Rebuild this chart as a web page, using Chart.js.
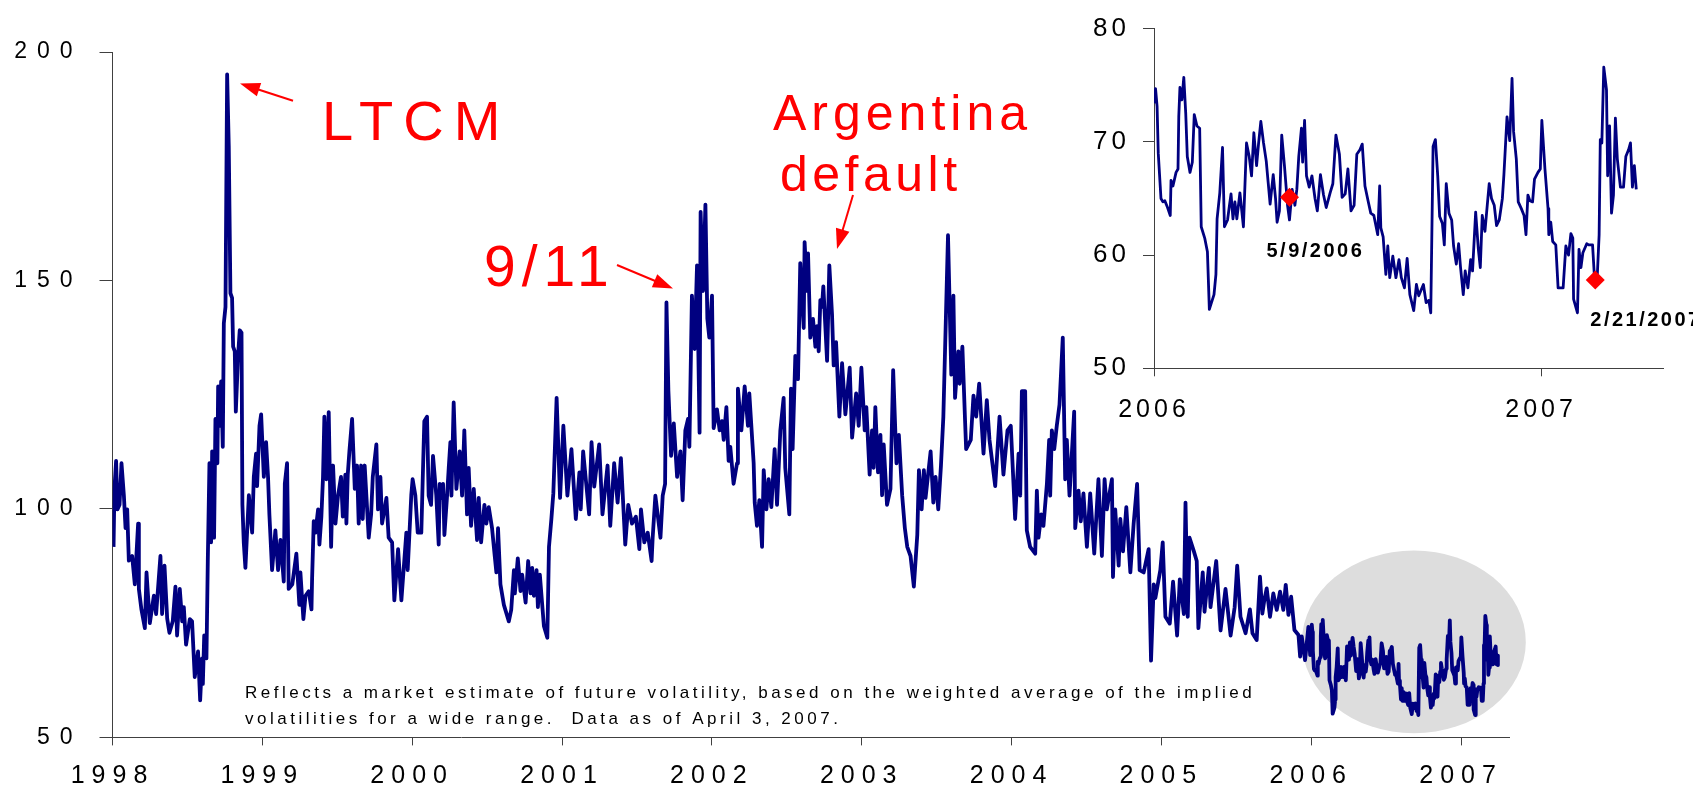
<!DOCTYPE html>
<html>
<head>
<meta charset="utf-8">
<script src="https://cdn.jsdelivr.net/npm/chart.js@4.4.0/dist/chart.umd.min.js"></script>
<style>
  body { margin: 0; background: #fff; }
  #wrap { position: relative; width: 1693px; height: 787px; overflow: hidden; background: #fff; }
  canvas { position: absolute; top: 0; }
</style>
</head>
<body>
<div id="wrap">
  <canvas id="mainChart" width="1693" height="787" style="left:0"></canvas>
  <canvas id="insetChart" width="633" height="430" style="left:1060px"></canvas>
</div>
<script>
// weekly-ish readings, decimal years
const dates = [
  1998.007,1998.013,1998.024,1998.033,1998.047,1998.060,1998.076,1998.087,1998.098,1998.109,
  1998.131,1998.149,1998.171,1998.176,1998.193,1998.216,1998.227,1998.249,1998.276,1998.291,
  1998.320,1998.331,1998.347,1998.365,1998.380,1998.402,1998.420,1998.431,1998.449,1998.465,
  1998.476,1998.491,1998.516,1998.531,1998.549,1998.571,1998.585,1998.598,1998.603,1998.612,
  1998.627,1998.636,1998.647,1998.658,1998.665,1998.678,1998.687,1998.700,1998.705,1998.716,
  1998.725,1998.736,1998.743,1998.754,1998.765,1998.776,1998.787,1998.798,1998.805,1998.816,
  1998.823,1998.838,1998.849,1998.861,1998.867,1998.876,1998.887,1998.910,1998.932,1998.943,
  1998.958,1998.965,1998.981,1998.992,1999.010,1999.025,1999.038,1999.047,1999.065,1999.087,
  1999.105,1999.121,1999.143,1999.150,1999.165,1999.176,1999.200,1999.227,1999.247,1999.254,
  1999.274,1999.288,1999.310,1999.328,1999.332,1999.343,1999.354,1999.372,1999.381,1999.394,
  1999.405,1999.414,1999.428,1999.443,1999.459,1999.472,1999.488,1999.505,1999.525,1999.537,
  1999.554,1999.561,1999.570,1999.581,1999.599,1999.617,1999.632,1999.643,1999.659,1999.670,
  1999.683,1999.710,1999.726,1999.737,1999.761,1999.772,1999.788,1999.799,1999.828,1999.843,
  1999.866,1999.881,1999.906,1999.928,1999.961,1999.970,1999.994,2000.003,2000.021,2000.037,
  2000.061,2000.070,2000.081,2000.099,2000.110,2000.126,2000.139,2000.161,2000.177,2000.184,
  2000.199,2000.206,2000.215,2000.233,2000.244,2000.255,2000.262,2000.277,2000.295,2000.317,
  2000.333,2000.348,2000.366,2000.377,2000.393,2000.411,2000.433,2000.444,2000.460,2000.482,
  2000.495,2000.511,2000.533,2000.551,2000.562,2000.573,2000.589,2000.612,2000.645,2000.661,
  2000.679,2000.685,2000.705,2000.723,2000.734,2000.757,2000.774,2000.790,2000.801,2000.812,
  2000.830,2000.839,2000.852,2000.879,2000.902,2000.913,2000.929,2000.942,2000.964,2000.987,
  2001.009,2001.036,2001.063,2001.092,2001.116,2001.125,2001.141,2001.181,2001.197,2001.215,
  2001.248,2001.270,2001.304,2001.322,2001.348,2001.371,2001.393,2001.422,2001.442,2001.467,
  2001.493,2001.516,2001.527,2001.549,2001.572,2001.598,2001.605,2001.623,2001.657,2001.672,
  2001.688,2001.697,2001.710,2001.728,2001.746,2001.768,2001.790,2001.805,2001.823,2001.841,
  2001.850,2001.867,2001.885,2001.901,2001.918,2001.925,2001.941,2001.957,2001.970,2001.983,
  2002.001,2002.012,2002.034,2002.052,2002.068,2002.079,2002.097,2002.112,2002.123,2002.145,
  2002.168,2002.174,2002.197,2002.219,2002.241,2002.250,2002.279,2002.286,2002.301,2002.317,
  2002.335,2002.346,2002.364,2002.379,2002.397,2002.419,2002.435,2002.457,2002.479,2002.490,
  2002.517,2002.528,2002.539,2002.557,2002.575,2002.590,2002.613,2002.619,2002.635,2002.642,
  2002.657,2002.675,2002.691,2002.702,2002.713,2002.724,2002.735,2002.744,2002.769,2002.784,
  2002.802,2002.813,2002.829,2002.851,2002.869,2002.891,2002.920,2002.936,2002.963,2002.980,
  2002.998,2003.020,2003.031,2003.053,2003.069,2003.080,2003.091,2003.109,2003.125,2003.136,
  2003.147,2003.169,2003.192,2003.210,2003.232,2003.248,2003.270,2003.288,2003.304,2003.326,
  2003.348,2003.371,2003.382,2003.400,2003.415,2003.426,2003.460,2003.478,2003.493,2003.511,
  2003.529,2003.545,2003.576,2003.598,2003.612,2003.623,2003.645,2003.654,2003.672,2003.690,
  2003.697,2003.728,2003.746,2003.764,2003.784,2003.813,2003.835,2003.853,2003.891,2003.920,
  2003.946,2003.973,2003.995,2004.024,2004.047,2004.058,2004.069,2004.091,2004.102,2004.124,
  2004.158,2004.169,2004.180,2004.198,2004.213,2004.236,2004.251,2004.258,2004.269,2004.285,
  2004.302,2004.320,2004.342,2004.358,2004.369,2004.387,2004.418,2004.425,2004.447,2004.462,
  2004.480,2004.503,2004.525,2004.552,2004.580,2004.603,2004.621,2004.636,2004.670,2004.677,
  2004.692,2004.715,2004.726,2004.744,2004.766,2004.793,2004.815,2004.838,2004.855,2004.882,
  2004.915,2004.931,2004.949,2004.960,2004.993,2005.009,2005.027,2005.056,2005.078,2005.105,
  2005.123,2005.150,2005.161,2005.176,2005.188,2005.217,2005.236,2005.247,2005.276,2005.288,
  2005.317,2005.328,2005.366,2005.395,2005.428,2005.462,2005.489,2005.506,2005.528,2005.562,
  2005.591,2005.608,2005.636,2005.658,2005.674,2005.687,2005.703,2005.725,2005.747,2005.770,
  2005.792,2005.814,2005.830,2005.848,2005.866,2005.888,2005.915,2005.926,2005.937,2005.959,
  2005.981,2005.993,
  2006.000,2006.004,2006.008,2006.011,2006.018,2006.023,2006.028,2006.035,2006.042,2006.044,
  2006.049,2006.057,2006.062,2006.064,2006.067,2006.072,2006.077,2006.082,2006.086,2006.093,
  2006.099,2006.104,2006.111,2006.118,2006.122,2006.131,2006.138,2006.143,2006.155,2006.160,
  2006.163,2006.170,2006.177,2006.182,2006.190,2006.195,2006.199,2006.204,2006.209,2006.214,
  2006.222,2006.231,2006.239,2006.246,2006.252,2006.258,2006.265,2006.270,2006.276,2006.283,
  2006.290,2006.295,2006.300,2006.308,2006.314,2006.318,2006.324,2006.330,2006.337,2006.345,
  2006.350,2006.357,2006.364,2006.369,2006.374,2006.381,2006.384,2006.389,2006.394,2006.401,
  2006.408,2006.416,2006.422,2006.430,2006.438,2006.445,2006.455,2006.462,2006.470,2006.479,
  2006.486,2006.494,2006.501,2006.509,2006.517,2006.524,2006.532,2006.538,2006.545,2006.553,
  2006.560,2006.568,2006.578,2006.583,2006.586,2006.592,2006.599,2006.604,2006.609,2006.617,
  2006.625,2006.633,2006.639,2006.647,2006.654,2006.661,2006.671,2006.678,2006.684,2006.696,
  2006.703,2006.710,2006.715,2006.721,2006.727,2006.733,2006.738,2006.745,2006.750,2006.755,
  2006.762,2006.769,2006.774,2006.781,2006.787,2006.792,2006.799,2006.804,2006.811,2006.818,
  2006.823,2006.831,2006.838,2006.843,2006.848,2006.855,2006.861,2006.866,2006.872,2006.879,
  2006.885,2006.892,2006.900,2006.904,2006.912,2006.919,2006.925,2006.929,2006.936,2006.941,
  2006.949,2006.956,2006.961,2006.966,2006.971,2006.978,2006.983,2006.992,2006.998,2007.002,
  2007.010,2007.018,2007.020,2007.025,2007.030,2007.038,2007.044,2007.057,2007.064,2007.071,
  2007.077,2007.082,2007.084,2007.094,2007.098,2007.103,2007.108,2007.118,2007.123,2007.133,
  2007.138,2007.145,2007.150,2007.153,2007.157,2007.162,2007.169,2007.172,2007.177,2007.182,
  2007.187,2007.192,2007.197,2007.205,2007.213,2007.219,2007.226,2007.231,2007.236,2007.241,
  2007.246
];

const values = [
  91.7,104.4,110.5,99.9,100.9,110.0,102.9,95.8,99.9,88.7,
  89.7,83.5,96.8,82.5,78.0,73.9,86.1,75.0,81.0,77.0,
  89.7,77.0,87.6,76.0,72.9,75.4,83.0,72.3,82.5,75.4,
  78.5,70.3,75.9,75.4,63.2,68.8,58.1,67.3,61.7,72.3,
  67.3,88.6,110.0,92.7,112.6,93.7,119.7,110.0,126.8,118.2,
  127.9,113.6,140.6,144.2,195.1,179.3,147.2,146.2,135.5,134.5,
  121.3,133.5,139.1,138.6,100.9,92.7,87.1,103.0,94.8,107.0,
  112.1,105.0,118.2,120.7,107.0,114.6,107.0,98.8,86.6,95.3,
  86.6,93.2,84.1,105.5,110.0,82.5,83.5,90.2,79.0,86.1,
  75.9,81.0,82.0,78.0,84.6,97.3,94.8,99.9,92.2,98.3,
  107.0,120.2,106.5,121.2,91.7,109.5,96.8,102.9,107.0,98.3,
  107.5,96.8,107.5,112.6,119.7,104.4,109.5,96.8,109.5,97.8,
  109.5,93.7,98.8,107.0,114.1,99.9,107.0,96.8,102.4,93.7,
  92.7,80.0,91.2,80.0,94.8,86.6,103.0,106.5,103.0,94.8,
  94.8,106.0,119.2,120.2,102.9,100.9,111.6,102.9,92.2,105.5,
  102.4,105.5,94.3,102.9,109.0,114.6,102.9,123.3,104.4,112.6,
  102.9,117.2,98.8,109.0,96.3,104.4,93.2,102.4,92.7,100.9,
  96.8,100.4,95.8,89.7,86.1,95.8,83.5,79.0,75.4,77.9,
  86.6,81.5,89.2,82.0,85.6,79.5,88.6,81.5,87.1,81.0,
  86.6,78.5,85.6,74.4,71.8,91.7,97.8,103.4,124.3,102.4,
  118.2,102.9,113.1,97.8,108.0,99.9,112.6,98.8,114.6,104.9,
  114.1,98.8,109.5,96.3,110.0,101.4,111.1,92.2,100.9,96.8,
  98.3,91.2,99.9,92.7,94.8,88.6,93.7,102.9,93.7,102.9,
  105.5,145.2,125.8,111.6,118.7,107.0,112.6,101.9,117.2,119.7,
  113.6,146.7,135.0,153.3,116.7,165.0,147.7,166.6,141.6,137.5,
  146.7,117.7,121.8,117.2,119.2,115.1,122.3,110.5,113.6,105.5,
  110.0,126.3,117.2,126.8,118.2,125.3,110.0,101.4,96.3,101.9,
  91.7,108.5,99.9,106.5,100.4,113.1,100.9,117.2,124.3,109.0,
  98.8,126.3,113.1,133.5,128.4,153.8,139.6,158.4,147.7,155.9,
  137.5,141.6,135.5,140.0,134.5,145.7,144.2,148.7,132.4,153.3,
  142.6,131.4,136.5,120.2,131.9,120.7,130.9,115.6,125.3,118.2,
  130.9,117.2,122.3,107.5,117.2,109.0,122.3,108.0,116.2,103.0,
  114.1,100.9,104.4,130.4,110.0,116.2,103.0,95.8,91.7,89.7,
  83.0,94.3,108.5,99.9,108.5,102.4,112.6,101.4,107.0,99.9,
  109.5,120.2,159.9,129.4,146.7,124.3,134.5,127.4,135.5,119.2,
  113.1,115.1,124.8,120.2,127.4,112.1,123.8,115.1,105.0,120.2,
  107.5,117.2,118.2,97.8,112.1,102.9,125.8,125.8,95.3,91.7,
  90.2,104.0,93.7,98.8,96.3,105.5,115.1,102.9,117.2,113.1,
  118.2,122.8,137.5,106.5,115.1,102.9,121.3,95.8,104.0,97.3,
  103.4,91.7,103.4,90.2,106.5,89.7,106.5,99.9,106.5,85.1,
  99.9,87.6,97.8,90.7,100.4,86.1,96.8,105.5,86.6,86.1,
  91.2,66.8,83.5,80.5,86.6,92.7,76.4,74.9,84.1,72.3,
  84.6,77.0,101.4,76.4,93.7,90.7,88.6,73.9,86.1,77.5,
  87.1,78.5,88.6,73.4,82.5,72.3,78.5,87.6,76.4,72.8,
  78.0,72.8,71.3,85.2,77.1,80.0,82.6,76.4,81.5,77.9,
  81.9,77.9,83.4,76.8,80.8,73.5,72.4,67.7,72.1,66.9,
  74.2,68.0,
  73.4,74.7,73.1,69.0,65.0,64.7,64.8,64.2,63.5,66.6,
  66.1,67.3,67.6,72.2,74.8,73.7,75.7,72.5,68.7,67.3,
  68.2,72.4,71.4,71.2,62.5,61.5,60.3,55.2,56.5,58.3,
  63.2,65.5,69.5,62.5,63.1,64.4,65.4,63.2,64.7,63.2,
  65.5,62.5,69.9,68.7,67.0,70.8,67.9,69.8,71.8,69.9,
  68.3,66.4,64.5,67.1,65.0,62.9,63.9,70.6,67.9,64.4,
  63.1,65.8,64.4,65.8,68.7,71.2,68.2,71.9,67.0,66.0,
  67.0,65.0,63.9,67.1,65.3,64.2,65.5,66.3,70.6,68.9,
  65.1,65.4,67.6,63.9,64.4,68.9,69.3,69.8,66.1,64.8,
  63.7,63.5,61.8,66.1,62.4,61.6,58.3,60.8,58.0,59.9,
  58.0,59.6,58.0,57.1,59.7,56.5,55.1,57.4,56.4,57.4,
  55.8,56.0,54.9,69.6,70.2,67.0,63.4,62.8,60.9,66.3,
  63.7,63.1,60.8,59.2,61.0,58.9,56.5,58.6,57.1,59.6,
  58.6,63.8,60.5,58.9,63.5,62.1,64.4,66.3,65.0,64.4,
  62.6,63.1,65.0,67.1,72.2,70.1,75.6,70.9,68.5,64.7,
  64.1,63.5,61.8,65.3,64.8,64.7,66.7,67.3,67.6,71.9,
  67.6,64.1,61.8,62.9,61.2,60.9,57.1,57.1,60.8,60.0,
  61.9,61.5,56.1,54.9,60.5,58.9,60.2,61.0,60.9,60.9,
  58.0,58.0,61.8,70.2,69.9,76.6,74.6,67.0,71.4,63.7,
  65.3,72.1,68.5,66.0,66.0,68.7,69.3,69.9,66.0,67.9,
  65.8
];

const yearTicks = [1998, 1999, 2000, 2001, 2002, 2003, 2004, 2005, 2006, 2007];
const valueTicks = [50, 100, 150, 200];
const insetStart = 2006;
const insetYearTicks = [2006, 2007];
const insetValueTicks = [50, 60, 70, 80];
const markerDates = [2006.35, 2007.14];
const markerValues = [65.1, 57.8];
const markerLabels = ["5/9/2006", "2/21/2007"];

const FONT = "'Liberation Sans', Arial, sans-serif";
const NAVY = "#000080";
const RED = "#ff0000";
const AXIS = "#404040";

// canvas letterSpacing on the tick labels of one scale
function spaceLabels(scale, px) {
  if (scale._spaced) return;
  scale._spaced = true;
  const draw = scale.drawLabels;
  scale.drawLabels = function (area) {
    this.ctx.save();
    this.ctx.letterSpacing = px + "px";
    draw.call(this, area);
    this.ctx.restore();
  };
}

function text(ctx, str, x, y, font, spacing) {
  ctx.font = font;
  ctx.letterSpacing = spacing + "px";
  ctx.fillText(str, x, y);
}

function arrow(ctx, x1, y1, x2, y2) {
  const a = Math.atan2(y2 - y1, x2 - x1), len = 20, half = 7;
  ctx.beginPath();
  ctx.moveTo(x1, y1);
  ctx.lineTo(x2 - Math.cos(a) * len * 0.8, y2 - Math.sin(a) * len * 0.8);
  ctx.stroke();
  ctx.beginPath();
  ctx.moveTo(x2, y2);
  ctx.lineTo(x2 - len * Math.cos(a) + half * Math.sin(a), y2 - len * Math.sin(a) - half * Math.cos(a));
  ctx.lineTo(x2 - len * Math.cos(a) - half * Math.sin(a), y2 - len * Math.sin(a) + half * Math.cos(a));
  ctx.closePath();
  ctx.fill();
}

// grey oval round the 2006-07 stretch, in data units
const highlight = { x: 2006.685, y: 70.9, rx: 0.747, ry: 20 };

const highlightPlugin = {
  id: "highlight",
  beforeDatasetsDraw(chart) {
    const { ctx, scales: { x, y } } = chart;
    const cx = x.getPixelForValue(highlight.x), cy = y.getPixelForValue(highlight.y);
    const rx = x.getPixelForValue(highlight.x + highlight.rx) - cx;
    const ry = cy - y.getPixelForValue(highlight.y + highlight.ry);
    ctx.save();
    ctx.fillStyle = "#dddddd";
    ctx.beginPath();
    ctx.ellipse(cx, cy, rx, ry, 0, 0, Math.PI * 2);
    ctx.fill();
    ctx.restore();
  }
};

const notesPlugin = {
  id: "notes",
  afterDraw(chart) {
    const ctx = chart.ctx;
    ctx.save();
    ctx.fillStyle = RED;
    ctx.strokeStyle = RED;
    ctx.lineWidth = 2;
    ctx.textAlign = "left";
    ctx.textBaseline = "alphabetic";
    text(ctx, "LTCM", 322, 140, "56px " + FONT, 10);
    text(ctx, "9/11", 484, 286, "57px " + FONT, 6);
    text(ctx, "Argentina", 773, 130, "50px " + FONT, 5);
    text(ctx, "default", 780, 190.6, "50px " + FONT, 4.5);
    ctx.letterSpacing = "0px";
    arrow(ctx, 293, 100.8, 240, 83.5);
    arrow(ctx, 617, 265, 673, 288.4);
    arrow(ctx, 853, 195, 837, 249);
    ctx.fillStyle = "#000";
    text(ctx, "Reflects a market estimate of future volatility, based on the weighted average of the implied", 245, 698, "17px " + FONT, 3.5);
    text(ctx, "volatilities for a wide range.  Data as of April 3, 2007.", 245, 724, "17px " + FONT, 3.5);
    ctx.restore();
  }
};

const markerNotes = {
  id: "markerNotes",
  afterDraw(chart) {
    const { ctx, scales: { x, y } } = chart;
    const offsets = [[-23, 60], [-5, 46]];
    ctx.save();
    ctx.fillStyle = "#000";
    ctx.textAlign = "left";
    ctx.textBaseline = "alphabetic";
    markerLabels.forEach((lbl, i) => {
      const px = x.getPixelForValue(markerDates[i]) + offsets[i][0];
      const py = y.getPixelForValue(markerValues[i]) + offsets[i][1];
      text(ctx, lbl, px, py, "bold 20px " + FONT, 2.5);
    });
    ctx.restore();
  }
};

const mainPoints = dates.map((d, i) => ({ x: d, y: values[i] }));
const insetPoints = mainPoints.filter(p => p.x >= insetStart);

function axisOpts(extra) {
  return Object.assign({
    type: "linear",
    grid: { drawOnChartArea: false, color: AXIS, lineWidth: 1 },
    border: { display: true, color: AXIS, width: 1 },
  }, extra);
}

new Chart(document.getElementById("mainChart"), {
  type: "line",
  data: {
    datasets: [{
      data: mainPoints,
      borderColor: NAVY,
      borderWidth: 3.8,
      borderJoinStyle: "round",
      pointRadius: 0,
      tension: 0
    }]
  },
  options: {
    responsive: false,
    animation: false,
    events: [],
    layout: { padding: { top: 52, right: 184, left: 0, bottom: 0 } },
    plugins: { legend: { display: false }, tooltip: { enabled: false } },
    scales: {
      x: axisOpts({
        min: 1998, max: 2007.32,
        afterBuildTicks: s => { s.ticks = yearTicks.map(v => ({ value: v })); },
        afterFit: s => { s.height = 49.6; spaceLabels(s, 7); },
        grid: { drawOnChartArea: false, color: AXIS, tickLength: 8 },
        ticks: { font: { family: FONT, size: 25 }, color: "#000", padding: 16, maxRotation: 0, autoSkip: false, callback: v => String(v) }
      }),
      y: axisOpts({
        min: 50, max: 200,
        afterBuildTicks: s => { s.ticks = valueTicks.map(v => ({ value: v })); },
        afterFit: s => { s.width = 112.5; spaceLabels(s, 10); },
        grid: { drawOnChartArea: false, color: AXIS, tickLength: 13 },
        ticks: { font: { family: FONT, size: 23 }, color: "#000", padding: 17, callback: v => String(v) }
      })
    }
  },
  plugins: [highlightPlugin, notesPlugin]
});

new Chart(document.getElementById("insetChart"), {
  type: "line",
  data: {
    datasets: [{
      data: insetPoints,
      borderColor: NAVY,
      borderWidth: 2.8,
      borderJoinStyle: "round",
      pointRadius: 0,
      tension: 0,
      order: 2
    }, {
      data: markerDates.map((d, i) => ({ x: d, y: markerValues[i] })),
      showLine: false,
      pointStyle: "rectRot",
      pointRadius: 9.5,
      backgroundColor: RED,
      borderColor: RED,
      borderWidth: 0,
      order: 1
    }]
  },
  options: {
    responsive: false,
    animation: false,
    events: [],
    layout: { padding: { top: 24.3, right: 30, left: 0, bottom: 0 } },
    plugins: { legend: { display: false }, tooltip: { enabled: false } },
    scales: {
      x: axisOpts({
        min: 2006, max: 2007.315,
        afterBuildTicks: s => { s.ticks = insetYearTicks.map(v => ({ value: v })); },
        afterFit: s => { s.height = 61.7; spaceLabels(s, 4); },
        grid: { drawOnChartArea: false, color: AXIS, tickLength: 8 },
        ticks: { font: { family: FONT, size: 25 }, color: "#000", padding: 19, maxRotation: 0, autoSkip: false, callback: v => String(v) }
      }),
      y: axisOpts({
        min: 50, max: 80,
        afterBuildTicks: s => { s.ticks = insetValueTicks.map(v => ({ value: v })); },
        afterFit: s => { s.width = 94; spaceLabels(s, 4); },
        grid: { drawOnChartArea: false, color: AXIS, tickLength: 11 },
        ticks: { font: { family: FONT, size: 26 }, color: "#000", padding: 13, callback: v => String(v) }
      })
    }
  },
  plugins: [markerNotes]
});
</script>
</body>
</html>
